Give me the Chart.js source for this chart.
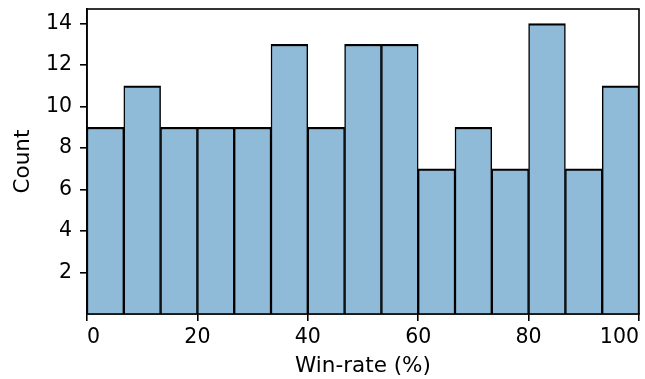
<!DOCTYPE html>
<html>
<head>
<meta charset="utf-8">
<script src="https://cdn.jsdelivr.net/npm/chart.js@4"></script>
<style>
  html, body { margin: 0; padding: 0; background: #fff; }
  #wrap { width: 645px; height: 379px; }
</style>
</head>
<body>
<div id="wrap"><canvas id="myChart" width="645" height="379"></canvas></div>
<script>
// histogram of win-rate, 15 bins over 0..100
const binCenters = [3.333, 10, 16.667, 23.333, 30, 36.667, 43.333, 50,
  56.667, 63.333, 70, 76.667, 83.333, 90, 96.667];
const counts = [9, 11, 9, 9, 9, 13, 9, 13, 13, 7, 9, 7, 14, 7, 11];
const xTicks = [0, 20, 40, 60, 80, 100];
const yTicks = [2, 4, 6, 8, 10, 12, 14];

const font = { family: "DejaVu Sans", size: 20.5 };
const titleFont = { family: "DejaVu Sans", size: 21.5 };

const frame = {
  id: "frame",
  afterDraw(chart) {
    const a = chart.chartArea, c = chart.ctx;
    c.save();
    c.strokeStyle = "#000";
    c.lineWidth = 1.6;
    c.strokeRect(a.left, a.top, a.right - a.left, a.bottom - a.top);
    c.restore();
  },
};

var ctx = document.getElementById("myChart").getContext("2d");

var myChart = new Chart(ctx, {
  type: "bar",
  data: {
    datasets: [
      {
        label: "Count",
        data: binCenters.map((x, i) => ({ x: x, y: counts[i] })),
        backgroundColor: "rgb(143, 187, 217)",
        borderColor: "#000",
        borderWidth: { top: 2.2, left: 1.5, right: 1.5, bottom: 0 },
        borderSkipped: false,
        barPercentage: 1,
        categoryPercentage: 1,
      },
    ],
  },
  options: {
    responsive: false,
    animation: false,
    layout: { padding: { top: 9, right: 6, left: 0, bottom: 0 } },
    plugins: { legend: { display: false }, tooltip: { enabled: false } },
    scales: {
      x: {
        type: "linear",
        min: 0,
        max: 100,
        offset: false,
        afterBuildTicks: (s) => { s.ticks = xTicks.map((v) => ({ value: v })); },
        afterFit: (s) => { s.height = 65; s.paddingLeft = 0; s.paddingRight = 0; },
        ticks: { color: "#000", font: font, align: "inner", padding: 4, maxRotation: 0 },
        grid: { offset: false, drawOnChartArea: false, color: "#000", lineWidth: 1.6, tickLength: 7 },
        border: { color: "#000", width: 1.6 },
        title: { display: true, text: "Win-rate (%)", color: "#000", font: titleFont, padding: { top: 4, bottom: 0 } },
      },
      y: {
        min: 0,
        max: 14.7,
        afterBuildTicks: (s) => { s.ticks = yTicks.map((v) => ({ value: v })); },
        afterFit: (s) => { s.width = 87; s.paddingTop = 0; s.paddingBottom = 0; },
        ticks: { color: "#000", font: font, padding: 8 },
        grid: { drawOnChartArea: false, color: "#000", lineWidth: 1.6, tickLength: 7 },
        border: { color: "#000", width: 1.6 },
        title: { display: true, text: "Count", color: "#000", font: titleFont, padding: { top: 11, bottom: 4 } },
      },
    },
  },
  plugins: [frame],
});
</script>
</body>
</html>
